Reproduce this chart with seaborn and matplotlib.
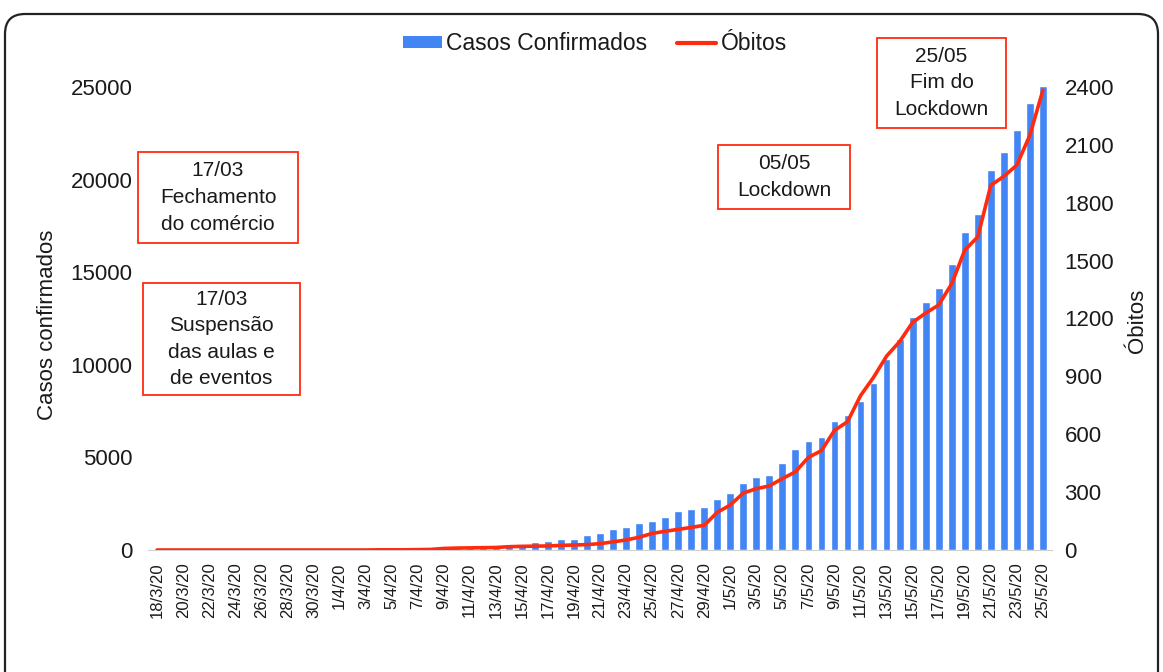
import numpy as np
import pandas as pd
import matplotlib
matplotlib.use("Agg")
import matplotlib.pyplot as plt
import seaborn as sns
from matplotlib.patches import Patch, Rectangle, FancyBboxPatch
from matplotlib.lines import Line2D

# Daily data 18/03/2020 - 25/05/2020
dates = pd.date_range("2020-03-18", "2020-05-25", freq="D")
date_labels = [f"{d.day}/{d.month}/20" for d in dates]

casos = [1, 2, 4, 6, 8, 10, 12, 15, 18, 22, 26, 30, 35, 40, 45, 50, 55, 60, 66, 72,
         80, 90, 110, 140, 170, 210, 270, 300, 310, 415, 500, 610, 620, 830, 935, 1160,
         1260, 1475, 1580, 1800, 2120, 2230, 2340, 2770, 3095, 3620, 3960, 4070, 4715,
         5470, 5900, 6120, 6980, 7300, 8060, 9030, 10330, 11420, 12600, 13375, 14130,
         15430, 17155, 18130, 20520, 21490, 22680, 24120, 25060]

obitos = [0, 0, 0, 0, 0, 0, 0, 0, 0, 0, 0, 0, 0, 0, 0, 0, 0, 1, 1, 1,
          2, 3, 8, 10, 11, 12, 13, 17, 19, 20, 21, 24, 26, 28, 33, 42,
          52, 66, 86, 97, 107, 117, 128, 195, 233, 295, 318, 332, 370,
          405, 480, 515, 620, 665, 800, 895, 1005, 1080, 1180, 1228, 1270,
          1380, 1554, 1623, 1890, 1937, 1995, 2150, 2383]

left_ticks = [0, 5000, 10000, 15000, 20000, 25000]
right_ticks = [0, 300, 600, 900, 1200, 1500, 1800, 2100, 2400]

# text boxes: (text, left, top, right, bottom) in pixels
notes = [
    ("17/03\nFechamento\ndo comércio", 138, 152, 298, 243),
    ("17/03\nSuspensão\ndas aulas e\nde eventos", 143, 283, 300, 395),
    ("05/05\nLockdown", 718, 145, 850, 209),
    ("25/05\nFim do\nLockdown", 877, 38, 1006, 128),
]

BLUE = "#4285F4"
RED = "#FF2B0F"
INK = "#1a1a1a"

sns.set_style("white")
plt.rcParams["font.family"] = ["Liberation Sans", "DejaVu Sans"]
plt.rcParams["text.color"] = INK
plt.rcParams["xtick.color"] = INK
plt.rcParams["ytick.color"] = INK
plt.rcParams["axes.labelcolor"] = INK

W, H = 1163, 672
fig = plt.figure(figsize=(W / 100, H / 100), dpi=100)
ax = fig.add_axes([148 / W, 1 - 550 / H, 904 / W, 463 / H])

sns.barplot(x=date_labels, y=casos, color=BLUE, saturation=1, width=0.6, ax=ax)
ax.set_xlim(-0.7, len(casos) - 0.3)
ax.set_ylim(0, 25000)
ax.set_yticks(left_ticks)
ax.set_yticklabels([str(t) for t in left_ticks], fontsize=16)
ax.set_xticks(range(0, len(date_labels), 2))
ax.set_xticklabels(date_labels[::2], rotation=90, fontsize=12)
ax.tick_params(axis="both", length=0)
ax.tick_params(axis="y", pad=11)
ax.tick_params(axis="x", pad=9)
ax.set_xlabel("")
ax.set_ylabel("Casos confirmados", fontsize=16)
ax.yaxis.set_label_coords(-0.1, 0.486)
for s in ["top", "right", "left"]:
    ax.spines[s].set_visible(False)
ax.spines["bottom"].set_color("#d0d0d0")

ax2 = ax.twinx()
sns.lineplot(x=np.arange(len(obitos)), y=obitos, color=RED, linewidth=2.6, ax=ax2)
ax2.set_ylim(0, 2400)
ax2.set_yticks(right_ticks)
ax2.set_yticklabels([str(t) for t in right_ticks], fontsize=16)
ax2.tick_params(axis="y", length=0, pad=9)
ax2.set_ylabel("Óbitos", fontsize=16)
ax2.yaxis.set_label_coords(1.083, 0.495)
for s in ax2.spines.values():
    s.set_visible(False)

handles = [Patch(facecolor=BLUE, edgecolor="none"), Line2D([0], [0], color=RED, lw=3)]
fig.legend(handles, ["Casos Confirmados", "Óbitos"], loc="center",
           bbox_to_anchor=(595 / W, 1 - 44 / H), ncol=2, frameon=False, fontsize=16.5,
           handlelength=1.7, handleheight=0.45, handletextpad=0.2, columnspacing=1.3)

for txt, l, t, r, b in notes:
    fig.add_artist(Rectangle((l / W, 1 - b / H), (r - l) / W, (b - t) / H,
                             transform=fig.transFigure, facecolor="white",
                             edgecolor=RED, lw=1.3))
    fig.text((l + r) / 2 / W, 1 - (t + b) / 2 / H, txt, ha="center", va="center",
             fontsize=15, linespacing=1.5)

# rounded outer frame
fig.add_artist(FancyBboxPatch((0.05, -0.3), 11.53, 6.88, transform=fig.dpi_scale_trans,
                              boxstyle="round,pad=0,rounding_size=0.2",
                              facecolor="none", edgecolor="#222222", lw=1.6))

fig.savefig("out.png", dpi=100)
